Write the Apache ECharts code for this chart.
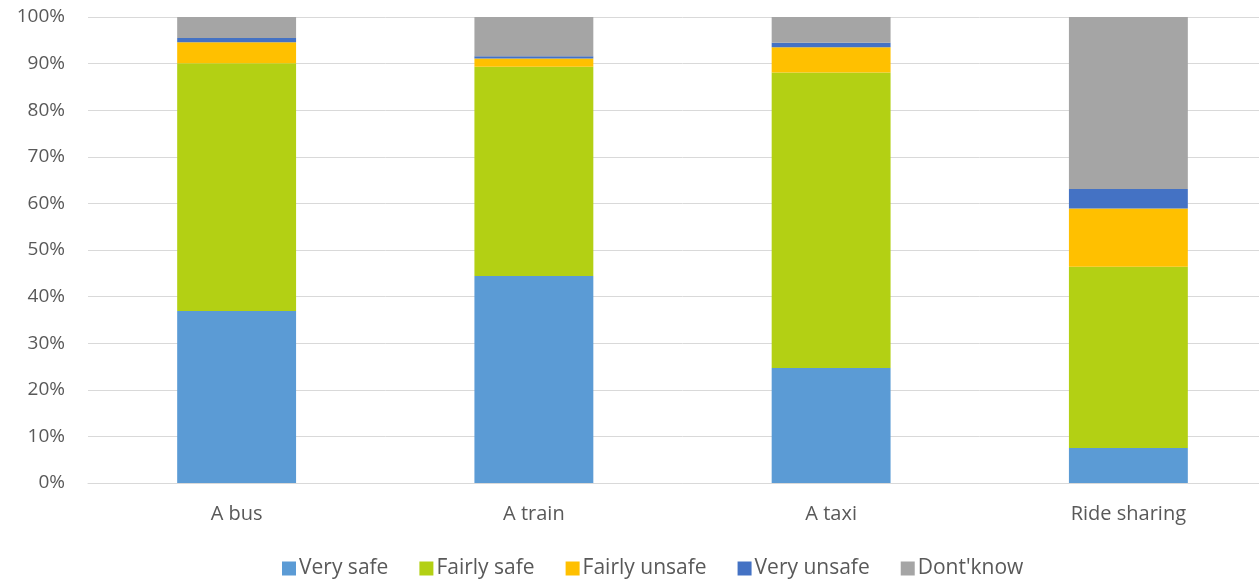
<!DOCTYPE html>
<html><head><meta charset="utf-8">
<script src="https://cdn.jsdelivr.net/npm/echarts@6/dist/echarts.min.js"></script>
<style>html,body{margin:0;padding:0;background:#fff;overflow:hidden}#c{width:1290px;height:581px}</style>
</head><body><div id="c"></div>
<script>
const categories = ["A bus", "A train", "A taxi", "Ride sharing"];
const verySafe = [36.9, 44.4, 24.7, 7.5];
const fairlySafe = [53.2, 44.9, 63.4, 38.9];
const fairlyUnsafe = [4.5, 1.8, 5.4, 12.5];
const veryUnsafe = [0.9, 0.5, 1.0, 4.2];
const dontKnow = [4.5, 8.4, 5.5, 36.9];
const yTicks = [0, 10, 20, 30, 40, 50, 60, 70, 80, 90, 100];

const seriesDefs = [
  ["Very safe", verySafe, "#5B9BD5"],
  ["Fairly safe", fairlySafe, "#B3D014"],
  ["Fairly unsafe", fairlyUnsafe, "#FFC000"],
  ["Very unsafe", veryUnsafe, "#4472C4"],
  ["Dont'know", dontKnow, "#A5A5A5"]
];
const font = "Open Sans, sans-serif";
const chart = echarts.init(document.getElementById('c'), null, {renderer: 'canvas'});
chart.setOption({
  animation: false,
  grid: {left: 88, top: 17, width: 1189, height: 466, containLabel: false},
  legend: {
    bottom: -3, left: 277,
    itemWidth: 14, itemHeight: 14, itemGap: 31,
    icon: 'rect',
    textStyle: {color: '#595959', fontSize: 21, fontFamily: font, padding: [0, 0, 0, -2]},
    data: seriesDefs.map(s => s[0])
  },
  xAxis: {
    type: 'category', data: categories,
    axisTick: {show: false},
    axisLine: {lineStyle: {color: '#D9D9D9', width: 1}},
    axisLabel: {color: '#595959', fontSize: 20, fontFamily: font, margin: 21}
  },
  yAxis: {
    type: 'value', min: yTicks[0], max: yTicks[yTicks.length - 1], interval: 10,
    axisLabel: {color: '#595959', fontSize: 19, fontFamily: font, margin: 23, formatter: v => v + '%'},
    splitLine: {lineStyle: {color: '#D9D9D9', width: 1}},
    axisLine: {show: false}, axisTick: {show: false}
  },
  series: seriesDefs.map(s => ({
    name: s[0], type: 'bar', stack: 'all', data: s[1], barWidth: '40%',
    itemStyle: {color: s[2]}
  }))
});
</script></body></html>
